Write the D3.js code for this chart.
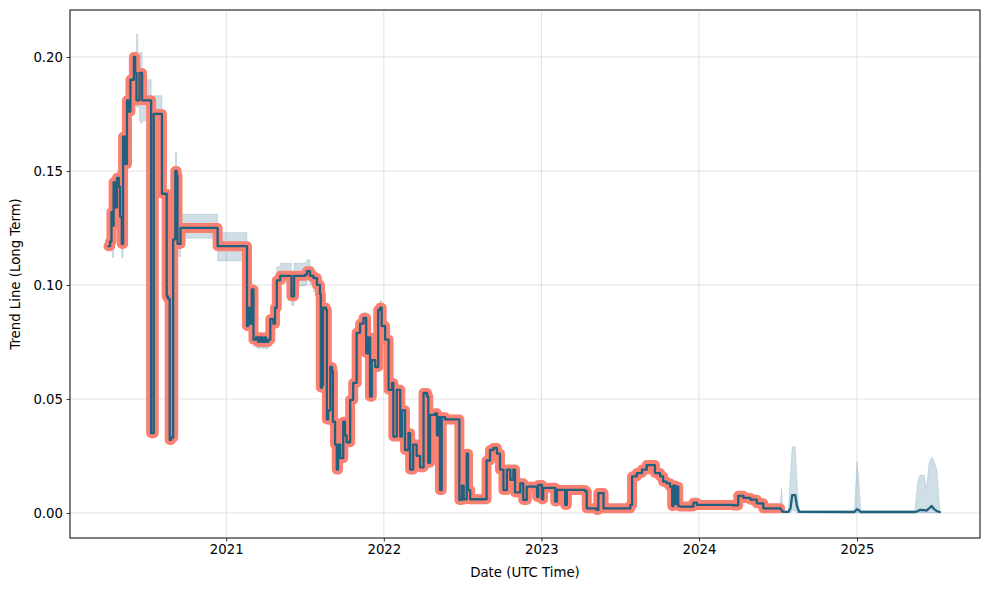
<!DOCTYPE html>
<html><head><meta charset="utf-8">
<script src="https://cdn.jsdelivr.net/npm/d3@7/dist/d3.min.js"></script>
<style>
body{margin:0;background:#fff}
svg text{font-family:"DejaVu Sans",sans-serif;}
</style>
</head><body>
<svg id="chart" width="989" height="590"></svg>
<script>
// ---------- data ----------
const dates = [
"2020-04-03","2020-04-07","2020-04-10","2020-04-12","2020-04-15","2020-04-19","2020-04-23","2020-04-27","2020-04-30","2020-05-04",
"2020-05-07","2020-05-12","2020-05-16","2020-05-20","2020-05-24","2020-05-28","2020-06-01","2020-06-04","2020-06-07","2020-06-10",
"2020-06-14","2020-06-17","2020-06-20","2020-07-09","2020-07-11","2020-07-15","2020-07-17","2020-08-02","2020-08-05","2020-08-13",
"2020-08-16","2020-08-19","2020-08-23","2020-08-26","2020-08-31","2020-09-05","2020-09-08","2020-09-10","2020-09-15","2020-09-17",
"2020-12-10","2020-12-12","2021-02-16","2021-02-18","2021-02-21","2021-02-24","2021-03-01","2021-03-05","2021-03-11","2021-03-16",
"2021-03-20","2021-03-25","2021-03-30","2021-04-03","2021-04-08","2021-04-13","2021-04-20","2021-04-24","2021-04-28","2021-05-06",
"2021-05-29","2021-06-01","2021-06-05","2021-06-07","2021-07-03","2021-07-07","2021-07-14","2021-07-22","2021-07-30","2021-08-06",
"2021-08-08","2021-08-11","2021-08-13","2021-08-20","2021-08-22","2021-08-25","2021-08-30","2021-09-03","2021-09-05","2021-09-10",
"2021-09-14","2021-09-17","2021-09-22","2021-09-26","2021-09-29","2021-10-03","2021-10-07","2021-10-15","2021-10-22","2021-10-30",
"2021-11-07","2021-11-15","2021-11-21","2021-11-26","2021-11-30","2021-12-04","2021-12-12","2021-12-19","2021-12-23","2021-12-27",
"2022-01-04","2022-01-12","2022-01-20","2022-01-23","2022-01-31","2022-02-08","2022-02-12","2022-02-19","2022-02-27","2022-03-03",
"2022-03-10","2022-03-18","2022-03-26","2022-04-03","2022-04-11","2022-04-14","2022-04-18","2022-04-30","2022-05-04","2022-05-07",
"2022-05-11","2022-05-15","2022-05-23","2022-06-22","2022-06-25","2022-07-01","2022-07-05","2022-07-12","2022-07-15","2022-07-20",
"2022-08-19","2022-08-27","2022-09-04","2022-09-12","2022-09-20","2022-09-27","2022-10-05","2022-10-13","2022-10-21","2022-10-28",
"2022-11-01","2022-11-13","2022-11-20","2022-11-28","2022-12-14","2022-12-22","2022-12-25","2022-12-31","2023-01-02","2023-01-05",
"2023-01-28","2023-02-02","2023-02-06","2023-02-20","2023-02-25","2023-03-01","2023-04-12","2023-04-16","2023-05-09","2023-05-13",
"2023-05-21","2023-05-25","2023-07-26","2023-07-30","2023-08-10","2023-08-22","2023-09-02","2023-09-14","2023-09-21","2023-10-03",
"2023-10-10","2023-10-18","2023-10-26","2023-10-31","2023-11-03","2023-11-07","2023-11-10","2023-11-14","2023-11-18","2023-12-11",
"2023-12-19","2023-12-27","2024-03-21","2024-04-01","2024-04-13","2024-04-29","2024-05-14","2024-05-29","2024-07-07","2024-07-10",
"2024-07-14","2024-07-26","2024-07-31","2024-08-04","2024-08-11","2024-08-15","2024-08-20","2024-12-26","2025-01-01","2025-01-05",
"2025-01-10","2025-05-15","2025-05-22","2025-05-27","2025-06-06","2025-06-11","2025-06-17","2025-06-23","2025-06-28","2025-07-05",
"2025-07-12"
];
const trend = [
0.117,0.119,0.132,0.126,0.145,0.134,0.147,0.143,0.130,0.118,
0.165,0.153,0.181,0.176,0.190,0.190,0.200,0.193,0.181,0.181,
0.193,0.193,0.181,0.181,0.035,0.035,0.175,0.175,0.140,0.140,
0.095,0.094,0.032,0.033,0.120,0.150,0.148,0.118,0.118,0.125,
0.125,0.117,0.117,0.082,0.090,0.083,0.098,0.076,0.077,0.075,
0.077,0.075,0.077,0.075,0.076,0.085,0.083,0.090,0.102,0.104,
0.104,0.095,0.095,0.104,0.1045,0.106,0.104,0.103,0.100,0.096,
0.055,0.056,0.090,0.089,0.041,0.045,0.064,0.062,0.040,0.030,
0.019,0.030,0.024,0.024,0.040,0.034,0.031,0.0496,0.057,0.079,
0.083,0.0855,0.070,0.077,0.051,0.067,0.064,0.089,0.090,0.082,
0.076,0.054,0.057,0.0335,0.054,0.0335,0.045,0.0276,0.035,0.019,
0.030,0.025,0.020,0.0526,0.051,0.022,0.043,0.0437,0.034,0.042,
0.010,0.042,0.041,0.041,0.0057,0.012,0.006,0.026,0.010,0.006,
0.006,0.023,0.0276,0.0285,0.026,0.019,0.010,0.019,0.0145,0.019,
0.009,0.013,0.0057,0.0115,0.0115,0.007,0.0123,0.0123,0.006,0.011,
0.011,0.005,0.0101,0.0101,0.0035,0.0101,0.0095,0.002,0.0013,0.0087,
0.0087,0.002,0.0035,0.016,0.0175,0.019,0.021,0.021,0.0175,0.016,
0.0137,0.013,0.0115,0.003,0.012,0.004,0.0115,0.003,0.0028,0.0028,
0.0045,0.0035,0.0033,0.0075,0.0066,0.0058,0.0042,0.002,0.002,0.0012,
0.0005,0.0005,0.002,0.0078,0.0078,0.003,0.0005,0.0004,0.0016,0.0012,
0.0004,0.0004,0.0008,0.0013,0.0012,0.001,0.002,0.003,0.0018,0.0008,
0.0004
];
const lower = [
0.115,0.117,0.128,0.112,0.142,0.131,0.144,0.140,0.127,0.112,
0.162,0.150,0.178,0.173,0.187,0.187,0.197,0.190,0.178,0.178,
0.172,0.171,0.172,0.172,0.033,0.033,0.172,0.172,0.138,0.138,
0.093,0.092,0.030,0.031,0.118,0.147,0.145,0.1125,0.1125,0.1205,
0.1205,0.1105,0.1105,0.080,0.088,0.081,0.096,0.073,0.0725,0.072,
0.0725,0.072,0.0725,0.072,0.073,0.083,0.081,0.088,0.100,0.101,
0.101,0.091,0.091,0.0995,0.100,0.102,0.100,0.097,0.097,0.094,
0.053,0.054,0.088,0.087,0.039,0.043,0.062,0.060,0.038,0.028,
0.017,0.028,0.022,0.022,0.038,0.032,0.029,0.0476,0.055,0.077,
0.081,0.083,0.068,0.075,0.049,0.065,0.062,0.087,0.088,0.080,
0.074,0.052,0.055,0.0315,0.052,0.0315,0.043,0.0256,0.033,0.017,
0.028,0.023,0.018,0.0506,0.049,0.020,0.041,0.0417,0.032,0.040,
0.008,0.040,0.039,0.039,0.0037,0.010,0.004,0.024,0.008,0.004,
0.004,0.021,0.0256,0.0265,0.024,0.017,0.008,0.017,0.0125,0.017,
0.007,0.011,0.0037,0.0095,0.0095,0.005,0.0103,0.0103,0.004,0.009,
0.009,0.003,0.0081,0.0081,0.0015,0.0081,0.0075,0.0005,0.0,0.0067,
0.0067,0.0005,0.0015,0.014,0.0155,0.017,0.019,0.019,0.0155,0.014,
0.0117,0.011,0.0095,0.001,0.010,0.002,0.0095,0.001,0.001,0.001,
0.0025,0.0015,0.0015,0.0055,0.0046,0.0038,0.0022,0.0005,0.0005,0.0,
0.0,0.0,0.0,0.001,0.001,0.0,0.0,0.0,0.0,0.0,
0.0,0.0,0.0,0.0,0.0,0.0,0.0,0.0,0.0,0.0,
0.0
];
const upper = [
0.119,0.121,0.135,0.128,0.147,0.136,0.150,0.146,0.132,0.120,
0.167,0.156,0.183,0.178,0.192,0.192,0.202,0.196,0.210,0.184,
0.202,0.202,0.190,0.190,0.037,0.037,0.183,0.183,0.142,0.142,
0.097,0.096,0.034,0.035,0.122,0.158,0.152,0.120,0.120,0.131,
0.131,0.123,0.123,0.084,0.092,0.085,0.100,0.078,0.079,0.077,
0.079,0.077,0.079,0.077,0.078,0.087,0.085,0.092,0.108,0.1095,
0.1095,0.100,0.100,0.1095,0.110,0.111,0.108,0.105,0.102,0.098,
0.057,0.058,0.092,0.091,0.043,0.047,0.066,0.064,0.042,0.032,
0.021,0.032,0.026,0.026,0.042,0.036,0.033,0.0516,0.059,0.081,
0.085,0.088,0.072,0.079,0.053,0.069,0.066,0.091,0.093,0.084,
0.078,0.056,0.059,0.0355,0.056,0.0355,0.047,0.0296,0.037,0.021,
0.032,0.027,0.022,0.0546,0.053,0.024,0.045,0.0457,0.036,0.044,
0.012,0.044,0.043,0.043,0.0077,0.014,0.008,0.028,0.012,0.008,
0.008,0.025,0.0296,0.0305,0.028,0.021,0.012,0.021,0.0165,0.021,
0.011,0.015,0.0077,0.0135,0.0135,0.009,0.0143,0.0143,0.008,0.013,
0.013,0.007,0.0121,0.0121,0.0055,0.0121,0.0115,0.0035,0.003,0.0107,
0.0107,0.0035,0.0055,0.018,0.0195,0.021,0.023,0.023,0.0195,0.018,
0.0157,0.015,0.0135,0.005,0.014,0.006,0.0135,0.005,0.0045,0.0045,
0.0065,0.0055,0.0052,0.0095,0.0086,0.0078,0.0062,0.0035,0.0035,0.011,
0.001,0.001,0.018,0.029,0.029,0.014,0.001,0.001,0.0225,0.016,
0.001,0.001,0.014,0.0167,0.0165,0.0105,0.022,0.0245,0.023,0.019,
0.0008
];
const highlightEnd = "2024-07-07";
const xDomain = ["2020-01-05", "2025-10-13"];
const yDomain = [-0.011, 0.2206];
const yTicks = [0.00, 0.05, 0.10, 0.15, 0.20];
const xTickLabels = ["2021", "2022", "2023", "2024", "2025"];
const xLabel = "Date (UTC Time)";
const yLabel = "Trend Line (Long Term)";

// ---------- drawing ----------
const parse = d3.timeParse("%Y-%m-%d");
const rows = dates.map((d, i) => ({ date: parse(d), v: trend[i], lo: lower[i], hi: upper[i] }));
const cutoff = parse(highlightEnd);
const pre = rows.filter(d => d.date <= cutoff);
const post = rows.filter(d => d.date >= cutoff);

const L = 70, R = 980, T = 10, B = 538;
const svg = d3.select("#chart");
svg.append("rect").attr("width", 989).attr("height", 590).attr("fill", "#fff");

const x = d3.scaleTime().domain(xDomain.map(parse)).range([L, R]);
const y = d3.scaleLinear().domain(yDomain).range([B, T]);
const xTicks = xTickLabels.map(s => parse(s + "-01-01"));

// grid
const grid = svg.append("g");
grid.selectAll("line.gx").data(xTicks).join("line")
  .attr("x1", d => x(d)).attr("x2", d => x(d)).attr("y1", T).attr("y2", B)
  .attr("stroke", "#b0b0b0").attr("stroke-opacity", 0.35).attr("stroke-width", 1);
grid.selectAll("line.gy").data(yTicks).join("line")
  .attr("x1", L).attr("x2", R).attr("y1", d => y(d)).attr("y2", d => y(d))
  .attr("stroke", "#b0b0b0").attr("stroke-opacity", 0.35).attr("stroke-width", 1);

const plot = svg.append("g");
// confidence band (stepped daily history, smooth forecast tail)
const areaStep = d3.area().curve(d3.curveStepAfter).x(d => x(d.date)).y0(d => y(d.lo)).y1(d => y(d.hi));
const areaLin = d3.area().x(d => x(d.date)).y0(d => y(d.lo)).y1(d => y(d.hi));
[[pre, areaStep], [post, areaLin]].forEach(([data, gen]) => {
  plot.append("path").datum(data).attr("d", gen)
    .attr("fill", "#2a6a8e").attr("fill-opacity", 0.22)
    .attr("stroke", "#2a6a8e").attr("stroke-opacity", 0.15).attr("stroke-width", 1);
});

const lineStep = d3.line().curve(d3.curveStepAfter).x(d => x(d.date)).y(d => y(d.v));
const lineLin = d3.line().x(d => x(d.date)).y(d => y(d.v));
// highlight
plot.append("path").datum(pre).attr("d", lineStep)
  .attr("fill", "none").attr("stroke", "#fa8072").attr("stroke-width", 10)
  .attr("stroke-linejoin", "round").attr("stroke-linecap", "round");
// trend line
plot.append("path").datum(pre).attr("d", lineStep)
  .attr("fill", "none").attr("stroke", "#21607f").attr("stroke-width", 2.3)
  .attr("stroke-linejoin", "round").attr("stroke-linecap", "round");
plot.append("path").datum(post).attr("d", lineLin)
  .attr("fill", "none").attr("stroke", "#21607f").attr("stroke-width", 2.3)
  .attr("stroke-linejoin", "round").attr("stroke-linecap", "round");

// axes
const fs = "13.3px";
const ax = svg.append("g").attr("transform", `translate(0,${B})`)
  .call(d3.axisBottom(x).tickValues(xTicks).tickFormat((d, i) => xTickLabels[i]).tickSize(3.5).tickPadding(3.5));
const ay = svg.append("g").attr("transform", `translate(${L},0)`)
  .call(d3.axisLeft(y).tickValues(yTicks).tickFormat(d3.format(".2f")).tickSize(3.5).tickPadding(3.5));
[ax, ay].forEach(g => {
  g.select(".domain").remove();
  g.selectAll("text").attr("font-family", "DejaVu Sans").attr("font-size", fs).attr("fill", "#000");
  g.selectAll("line").attr("stroke", "#000").attr("stroke-width", 0.8);
});

// frame
svg.append("rect").attr("x", L).attr("y", T).attr("width", R - L).attr("height", B - T)
  .attr("fill", "none").attr("stroke", "#000").attr("stroke-width", 1);

// labels
svg.append("text").attr("x", (L + R) / 2).attr("y", 577).attr("text-anchor", "middle")
  .attr("font-size", fs).attr("fill", "#000").text(xLabel);
svg.append("text").attr("transform", `translate(20,${(T + B) / 2}) rotate(-90)`).attr("text-anchor", "middle")
  .attr("font-size", fs).attr("fill", "#000").text(yLabel);
</script>
</body></html>
